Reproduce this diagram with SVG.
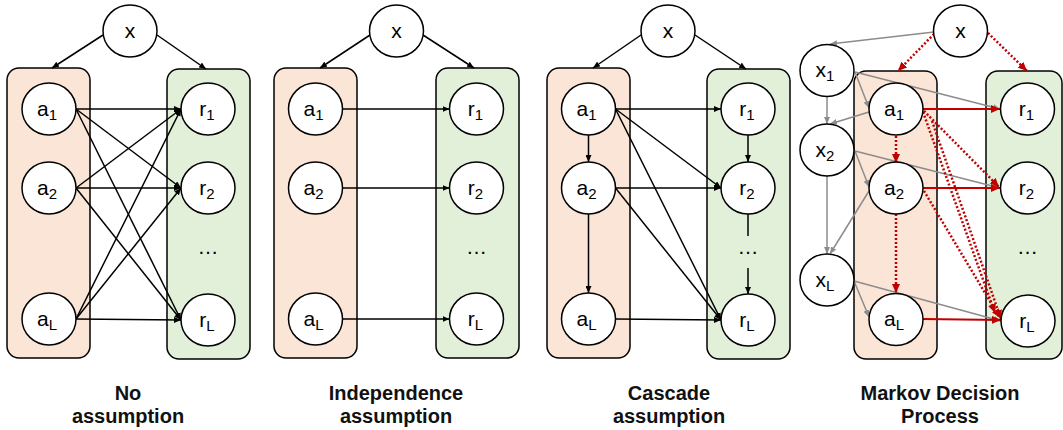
<svg xmlns="http://www.w3.org/2000/svg" width="1063" height="430" viewBox="0 0 1063 430">
<style>
.ba{fill:#FBE5D6;stroke:#000;stroke-width:1.5}
.br{fill:#E2F0D9;stroke:#000;stroke-width:1.5}
.n{fill:#fff;stroke:#000;stroke-width:1.5}
.l{font-family:"Liberation Sans",Arial,sans-serif;font-size:21px;text-anchor:middle;fill:#000}
.s{font-size:15px}
.t{font-family:"Liberation Sans",Arial,sans-serif;font-size:20px;font-weight:bold;text-anchor:middle;fill:#111}
.e{stroke:#000;stroke-width:1.5;fill:none;marker-end:url(#ab)}
.p{stroke:#000;stroke-width:1.5;fill:none}
.g{stroke:#8c8c8c;stroke-width:1.5;fill:none;marker-end:url(#ag)}
.r{stroke:#c00000;stroke-width:1.8;fill:none;marker-end:url(#ar)}
.rd{stroke:#c00000;stroke-width:2.5;stroke-dasharray:2 2;fill:none;marker-end:url(#ar)}
</style>
<defs>
<marker id="ab" markerUnits="userSpaceOnUse" markerWidth="7" markerHeight="6" refX="7" refY="3" orient="auto"><path d="M0,0 L7,3 L0,6 z" fill="#000"/></marker>
<marker id="ag" markerUnits="userSpaceOnUse" markerWidth="7" markerHeight="6" refX="7" refY="3" orient="auto"><path d="M0,0 L7,3 L0,6 z" fill="#8c8c8c"/></marker>
<marker id="ar" markerUnits="userSpaceOnUse" markerWidth="9" markerHeight="8" refX="9" refY="4" orient="auto"><path d="M0,0 L9,4 L0,8 z" fill="#c00000"/></marker>
</defs>

<!-- containers -->
<g id="p1-actions"><rect class="ba" x="7" y="68" width="83" height="290" rx="12"/></g>
<g id="p1-rewards"><rect class="br" x="167" y="69" width="83" height="290" rx="12"/></g>
<g id="p2-actions"><rect class="ba" x="274" y="68" width="83" height="290" rx="12"/></g>
<g id="p2-rewards"><rect class="br" x="436" y="68" width="83" height="290" rx="12"/></g>
<g id="p3-actions"><rect class="ba" x="547" y="68" width="83" height="290" rx="12"/></g>
<g id="p3-rewards"><rect class="br" x="707" y="69" width="83" height="290" rx="12"/></g>
<g id="p4-actions"><rect class="ba" x="854" y="71" width="83" height="288" rx="12"/></g>
<g id="p4-rewards"><rect class="br" x="986" y="71" width="76" height="288" rx="12"/></g>

<g id="connectors">
<!-- panel 1 -->
<path class="e" d="M103,35 L52,68"/>
<path class="e" d="M157,35 L206,69"/>
<path class="e" d="M76,109 L181,109"/>
<path class="e" d="M76,109 L181,188"/>
<path class="e" d="M76,109 L181,320"/>
<path class="e" d="M76,188 L181,109"/>
<path class="e" d="M76,188 L181,188"/>
<path class="e" d="M76,188 L181,320"/>
<path class="e" d="M76,319 L181,109"/>
<path class="e" d="M76,319 L181,188"/>
<path class="e" d="M76,319 L181,320"/>
<!-- panel 2 -->
<path class="e" d="M370,35 L320,68"/>
<path class="e" d="M423,35 L474,68"/>
<path class="e" d="M342.5,109 L449.5,109"/>
<path class="e" d="M342.5,188 L449.5,188"/>
<path class="e" d="M342.5,319 L449.5,319"/>
<!-- panel 3 -->
<path class="e" d="M641,35 L593,68"/>
<path class="e" d="M695,35 L746,69"/>
<path class="e" d="M588.5,135 L588.5,162"/>
<path class="e" d="M588.5,214 L588.5,293"/>
<path class="e" d="M748,135 L748,162"/>
<path class="p" d="M748,214 L748,236"/>
<path class="e" d="M748,268 L748,294"/>
<path class="e" d="M615.5,109 L721,109"/>
<path class="e" d="M615.5,109 L721,188"/>
<path class="e" d="M615.5,109 L721,320"/>
<path class="e" d="M615.5,188 L721,188"/>
<path class="e" d="M615.5,188 L721,320"/>
<path class="e" d="M615.5,319 L721,320"/>
<!-- panel 4 gray -->
<path class="g" d="M934,32 L830,44"/>
<path class="g" d="M827,96.5 L827,124"/>
<path class="g" d="M827,176 L827,254"/>
<path class="g" d="M855,72 L869,108"/>
<path class="g" d="M855,72 L1000,109"/>
<path class="g" d="M869,112 L830,124"/>
<path class="g" d="M855,151 L869,187"/>
<path class="g" d="M855,151 L1000,188"/>
<path class="g" d="M869,191 L830,254"/>
<path class="g" d="M854,281 L869,317"/>
<path class="g" d="M854,281 L1001,321"/>
<!-- panel 4 red -->
<path class="rd" d="M934,34 L898,71"/>
<path class="rd" d="M988,33 L1027,71"/>
<path class="rd" d="M896,136 L896,163"/>
<path class="rd" d="M896,214 L896,293"/>
<path class="rd" d="M924,111 L999,187"/>
<path class="rd" d="M923,112 L995,313"/>
<path class="rd" d="M932,121 L1001,319"/>
<path class="rd" d="M924,191 L1000,318"/>
<path class="r" d="M923,109 L1000,109"/>
<path class="r" d="M923,188 L1000,188"/>
<path class="r" d="M923,319 L1001,320"/>
</g>

<!-- panel 1 nodes -->
<g id="p1-x"><ellipse class="n" cx="130" cy="31" rx="27" ry="26"/><text class="l" x="130" y="38">x</text></g>
<g id="p1-a1"><ellipse class="n" cx="49" cy="109" rx="27" ry="26"/><text class="l" x="47" y="116">a<tspan class="s" dy="4">1</tspan></text></g>
<g id="p1-a2"><ellipse class="n" cx="49" cy="188" rx="27" ry="26"/><text class="l" x="47" y="195">a<tspan class="s" dy="4">2</tspan></text></g>
<g id="p1-aL"><ellipse class="n" cx="49" cy="319" rx="27" ry="26"/><text class="l" x="47" y="326">a<tspan class="s" dy="4">L</tspan></text></g>
<g id="p1-r1"><ellipse class="n" cx="208" cy="109" rx="27" ry="26"/><text class="l" x="207" y="116">r<tspan class="s" dy="4">1</tspan></text></g>
<g id="p1-r2"><ellipse class="n" cx="208" cy="188" rx="27" ry="26"/><text class="l" x="207" y="195">r<tspan class="s" dy="4">2</tspan></text></g>
<g id="p1-dots"><text class="l" x="208" y="254">…</text></g>
<g id="p1-rL"><ellipse class="n" cx="208" cy="320" rx="27" ry="26"/><text class="l" x="207" y="327">r<tspan class="s" dy="4">L</tspan></text></g>
<g id="p1-title"><text class="t" x="128" y="400">No</text><text class="t" x="128" y="423">assumption</text></g>

<!-- panel 2 nodes -->
<g id="p2-x"><ellipse class="n" cx="396.5" cy="31" rx="27" ry="26"/><text class="l" x="396.5" y="38">x</text></g>
<g id="p2-a1"><ellipse class="n" cx="315.5" cy="109" rx="27" ry="26"/><text class="l" x="313.5" y="116">a<tspan class="s" dy="4">1</tspan></text></g>
<g id="p2-a2"><ellipse class="n" cx="315.5" cy="188" rx="27" ry="26"/><text class="l" x="313.5" y="195">a<tspan class="s" dy="4">2</tspan></text></g>
<g id="p2-aL"><ellipse class="n" cx="315.5" cy="319" rx="27" ry="26"/><text class="l" x="313.5" y="326">a<tspan class="s" dy="4">L</tspan></text></g>
<g id="p2-r1"><ellipse class="n" cx="476.5" cy="109" rx="27" ry="26"/><text class="l" x="475.5" y="116">r<tspan class="s" dy="4">1</tspan></text></g>
<g id="p2-r2"><ellipse class="n" cx="476.5" cy="188" rx="27" ry="26"/><text class="l" x="475.5" y="195">r<tspan class="s" dy="4">2</tspan></text></g>
<g id="p2-dots"><text class="l" x="476.5" y="254">…</text></g>
<g id="p2-rL"><ellipse class="n" cx="476.5" cy="319" rx="27" ry="26"/><text class="l" x="475.5" y="326">r<tspan class="s" dy="4">L</tspan></text></g>
<g id="p2-title"><text class="t" x="396" y="400">Independence</text><text class="t" x="396" y="423">assumption</text></g>

<!-- panel 3 nodes -->
<g id="p3-x"><ellipse class="n" cx="668" cy="31" rx="27" ry="26"/><text class="l" x="668" y="38">x</text></g>
<g id="p3-a1"><ellipse class="n" cx="588.5" cy="109" rx="27" ry="26"/><text class="l" x="586.5" y="116">a<tspan class="s" dy="4">1</tspan></text></g>
<g id="p3-a2"><ellipse class="n" cx="588.5" cy="188" rx="27" ry="26"/><text class="l" x="586.5" y="195">a<tspan class="s" dy="4">2</tspan></text></g>
<g id="p3-aL"><ellipse class="n" cx="588.5" cy="319" rx="27" ry="26"/><text class="l" x="586.5" y="326">a<tspan class="s" dy="4">L</tspan></text></g>
<g id="p3-r1"><ellipse class="n" cx="748" cy="109" rx="27" ry="26"/><text class="l" x="747" y="116">r<tspan class="s" dy="4">1</tspan></text></g>
<g id="p3-r2"><ellipse class="n" cx="748" cy="188" rx="27" ry="26"/><text class="l" x="747" y="195">r<tspan class="s" dy="4">2</tspan></text></g>
<g id="p3-dots"><text class="l" x="748" y="254">…</text></g>
<g id="p3-rL"><ellipse class="n" cx="748" cy="320" rx="27" ry="26"/><text class="l" x="747" y="327">r<tspan class="s" dy="4">L</tspan></text></g>
<g id="p3-title"><text class="t" x="669" y="400">Cascade</text><text class="t" x="669" y="423">assumption</text></g>

<!-- panel 4 nodes -->
<g id="p4-x"><ellipse class="n" cx="960.5" cy="31" rx="27" ry="26"/><text class="l" x="960.5" y="38">x</text></g>
<g id="p4-x1"><ellipse class="n" cx="827" cy="70.5" rx="27" ry="26"/><text class="l" x="825" y="77">x<tspan class="s" dy="4">1</tspan></text></g>
<g id="p4-x2"><ellipse class="n" cx="827" cy="150" rx="27" ry="26"/><text class="l" x="825" y="157">x<tspan class="s" dy="4">2</tspan></text></g>
<g id="p4-xL"><ellipse class="n" cx="827" cy="280" rx="27" ry="26"/><text class="l" x="825" y="287">x<tspan class="s" dy="4">L</tspan></text></g>
<g id="p4-a1"><ellipse class="n" cx="896" cy="109" rx="27" ry="26"/><text class="l" x="894" y="116">a<tspan class="s" dy="4">1</tspan></text></g>
<g id="p4-a2"><ellipse class="n" cx="896" cy="188" rx="27" ry="26"/><text class="l" x="894" y="195">a<tspan class="s" dy="4">2</tspan></text></g>
<g id="p4-aL"><ellipse class="n" cx="896" cy="319.5" rx="27" ry="26"/><text class="l" x="894" y="326">a<tspan class="s" dy="4">L</tspan></text></g>
<g id="p4-r1"><ellipse class="n" cx="1027.5" cy="109" rx="27" ry="26"/><text class="l" x="1026.5" y="116">r<tspan class="s" dy="4">1</tspan></text></g>
<g id="p4-r2"><ellipse class="n" cx="1027.5" cy="188" rx="27" ry="26"/><text class="l" x="1026.5" y="195">r<tspan class="s" dy="4">2</tspan></text></g>
<g id="p4-dots"><text class="l" x="1027.5" y="254">…</text></g>
<g id="p4-rL"><ellipse class="n" cx="1028" cy="321" rx="27" ry="26"/><text class="l" x="1027" y="328">r<tspan class="s" dy="4">L</tspan></text></g>
<g id="p4-title"><text class="t" x="940" y="400">Markov Decision</text><text class="t" x="940" y="423">Process</text></g>
</svg>
